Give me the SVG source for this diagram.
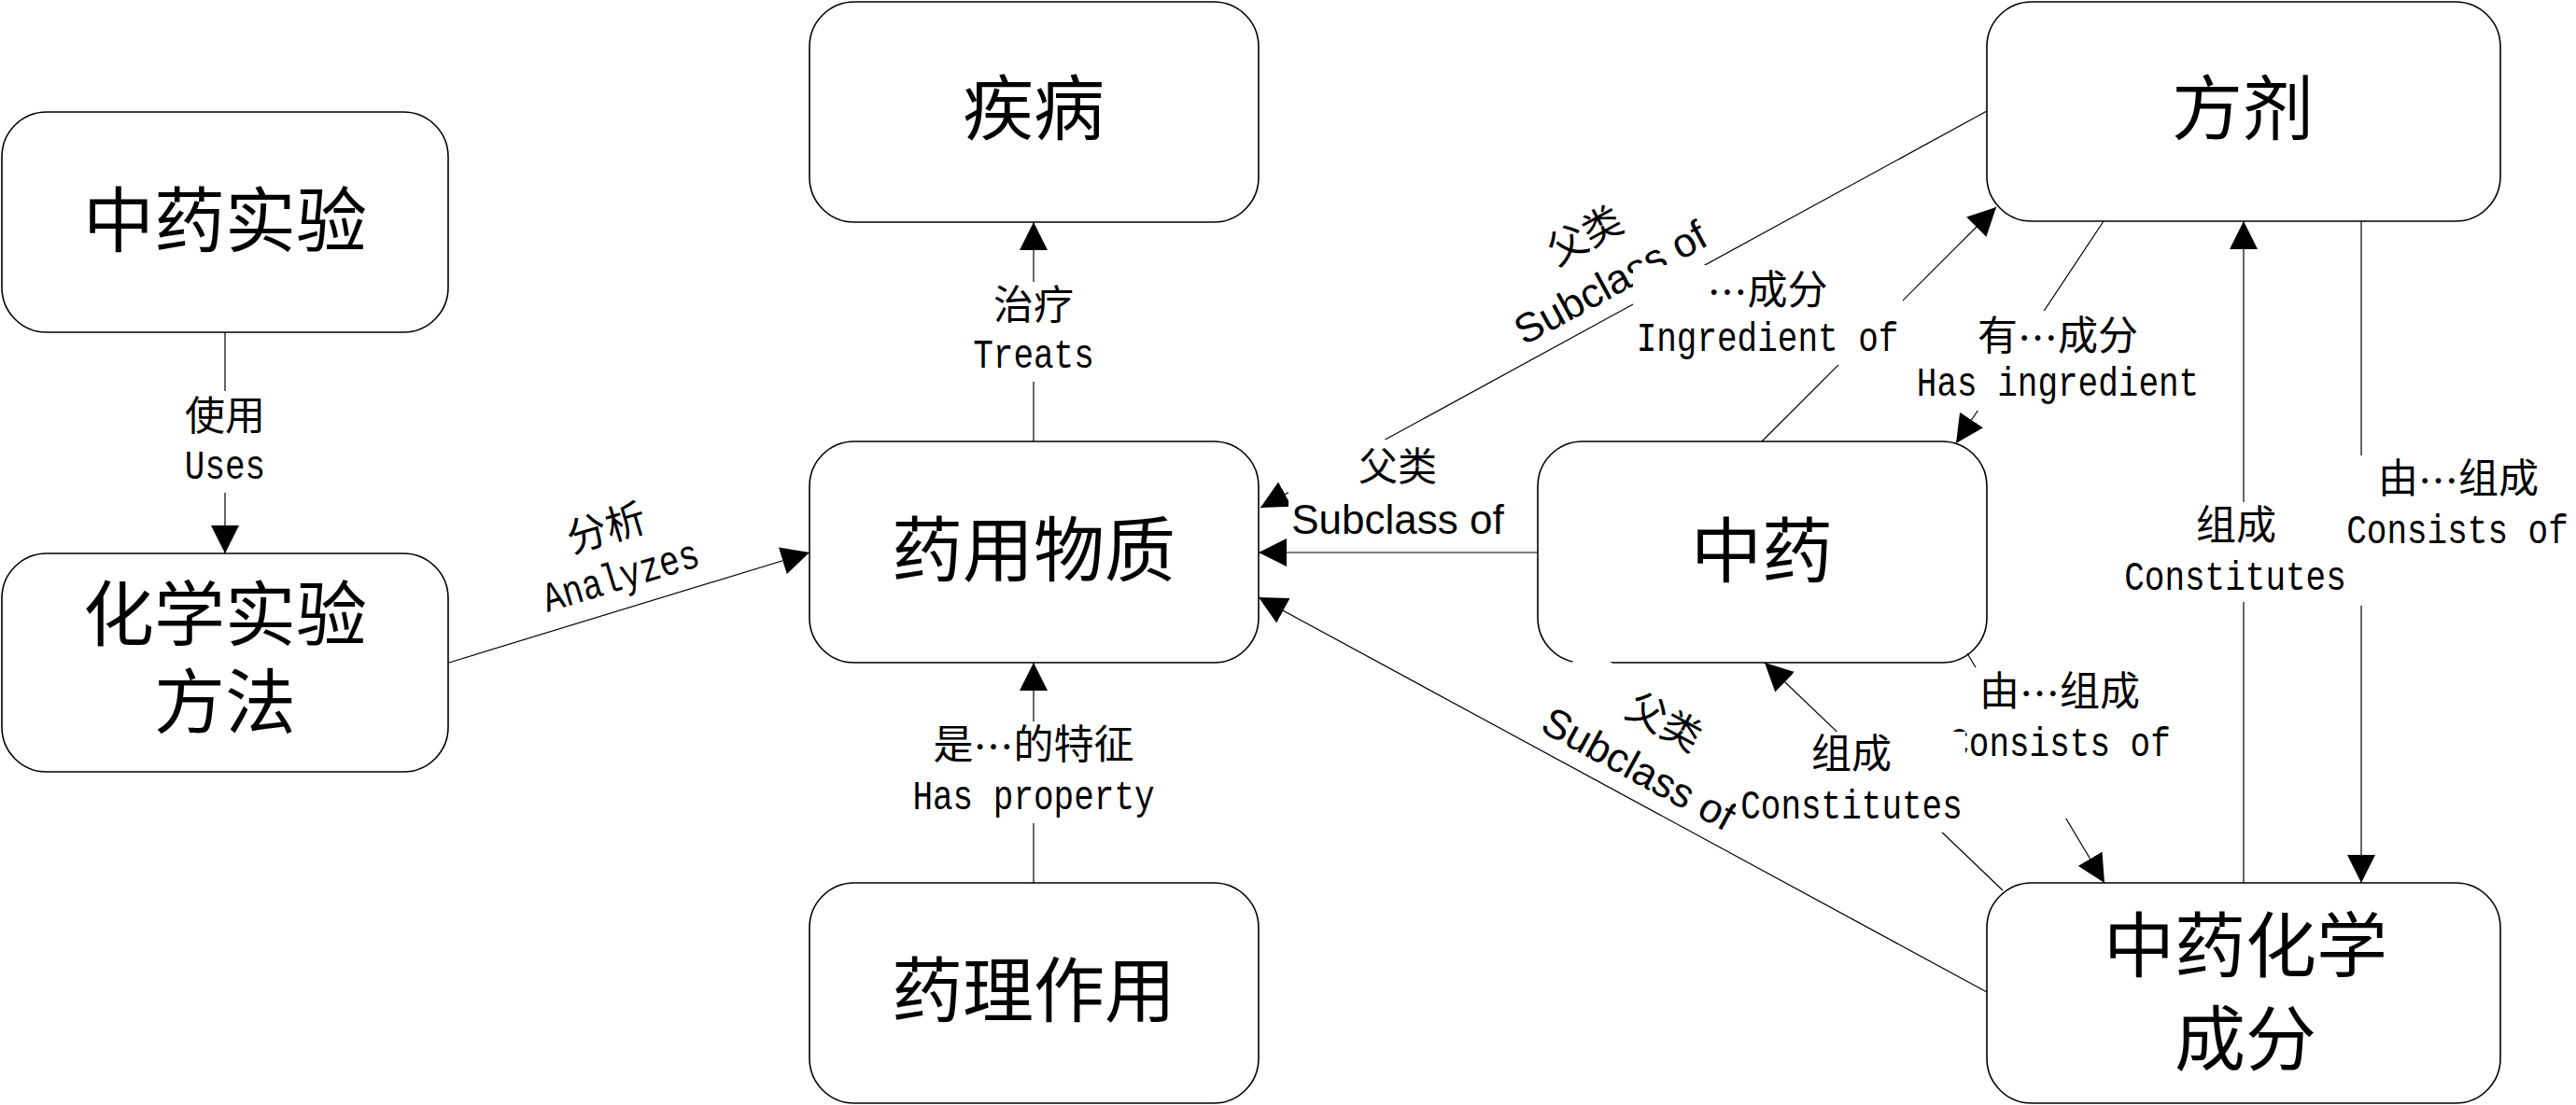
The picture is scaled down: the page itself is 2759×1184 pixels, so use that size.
<svg xmlns="http://www.w3.org/2000/svg" width="2759" height="1184" viewBox="0 0 2759 1184">
<defs>
<marker id="arr" markerUnits="userSpaceOnUse" markerWidth="30" markerHeight="30" refX="30" refY="15" orient="auto" viewBox="0 0 30 30"><path d="M0,0 L30,15 L0,30 Z" fill="#000"/></marker>
<style>
.node rect{fill:#fff;stroke:#000;stroke-width:1.6}
.nt{font-family:"Liberation Sans","Noto Sans CJK SC",sans-serif;font-size:76px;text-anchor:middle;dominant-baseline:central;fill:#000}
.conn line{stroke:#000;stroke-width:1.2;marker-end:url(#arr)}
.bg{fill:#fff;stroke:none}
.lc{font-family:"Liberation Sans","Noto Sans CJK SC",sans-serif;font-size:43px;text-anchor:middle;dominant-baseline:central;fill:#000}
.el{font-family:"Noto Sans CJK SC",sans-serif}
.ll{font-family:"Liberation Mono","Courier New",monospace;font-size:45px;text-anchor:middle;fill:#000}
.sc{font-family:"Liberation Sans",Arial,sans-serif;font-size:44px;text-anchor:middle;fill:#000}
.sz{font-family:"Liberation Sans","Noto Sans CJK SC",sans-serif;font-size:42px;text-anchor:middle;dominant-baseline:central;fill:#000}
</style>
</defs>
<rect width="2759" height="1184" fill="#fff"/>

<g id="node-tcm-experiment" class="node"><rect x="2" y="120" width="478" height="236" rx="48" ry="48"/><text class="nt" x="241" y="237">中药实验</text></g>
<g id="node-chem-method" class="node"><rect x="2" y="593" width="478" height="234" rx="48" ry="48"/><text class="nt" x="241" y="659">化学实验</text><text class="nt" x="241" y="753">方法</text></g>
<g id="node-disease" class="node"><rect x="867" y="2" width="481" height="236" rx="48" ry="48"/><text class="nt" x="1107" y="117">疾病</text></g>
<g id="node-medicinal-substance" class="node"><rect x="867" y="473" width="481" height="237" rx="48" ry="48"/><text class="nt" x="1107" y="590">药用物质</text></g>
<g id="node-pharmacology" class="node"><rect x="867" y="946" width="481" height="236" rx="48" ry="48"/><text class="nt" x="1107" y="1062">药理作用</text></g>
<g id="node-tcm" class="node"><rect x="1647" y="473" width="481" height="237" rx="48" ry="48"/><text class="nt" x="1887" y="591">中药</text></g>
<g id="node-formula" class="node"><rect x="2128" y="2" width="550" height="235" rx="48" ry="48"/><text class="nt" x="2402" y="117">方剂</text></g>
<g id="node-tcm-chem" class="node"><rect x="2128" y="946" width="550" height="236" rx="48" ry="48"/><text class="nt" x="2405" y="1014">中药化学</text><text class="nt" x="2405" y="1114">成分</text></g>

<g id="connectors" class="conn">
<line x1="241" y1="356" x2="241" y2="593"/>
<line x1="481" y1="710" x2="867" y2="592"/>
<line x1="1107" y1="473" x2="1107" y2="238"/>
<line x1="1107" y1="946" x2="1107" y2="710"/>
<line x1="1647" y1="592" x2="1348" y2="592"/>
<line x1="2128" y1="119" x2="1350" y2="544"/>
<line x1="2128" y1="1063" x2="1348" y2="640"/>
<line x1="1887" y1="473" x2="2138" y2="222"/>
<line x1="2253" y1="237" x2="2095" y2="475"/>
<line x1="2107" y1="700" x2="2254" y2="946"/>
<line x1="2145" y1="954" x2="1890" y2="710"/>
<line x1="2403" y1="946" x2="2403" y2="237"/>
<line x1="2529" y1="237" x2="2529" y2="946"/>
</g>

<g id="connector-labels">
<g id="lbl-uses"><rect class="bg" x="195" y="419" width="92" height="109"/><text class="lc" x="241" y="446">使用</text><text class="ll" transform="translate(241,513) scale(0.8,1)">Uses</text></g>
<g id="lbl-treats"><rect class="bg" x="1038" y="302" width="138" height="107"/><text class="lc" x="1107" y="327">治疗</text><text class="ll" transform="translate(1107,394) scale(0.8,1)">Treats</text></g>
<g id="lbl-hasprop"><rect class="bg" x="970" y="773" width="274" height="109"/><text class="lc" x="1107" y="798">是<tspan class="el">…</tspan>的特征</text><text class="ll" transform="translate(1107,867) scale(0.8,1)">Has property</text></g>
<g id="lbl-analyzes" transform="translate(669,631) rotate(-16.8)"><text class="lc" x="0" y="-68">分析</text><text class="ll" transform="scale(0.8,1)">Analyzes</text></g>
<g id="lbl-subclass-tcm" transform="translate(1497,572)"><rect class="bg" x="-117" y="-101" width="234" height="111"/><text class="sz" x="0" y="-72">父类</text><text class="sc" x="0" y="0">Subclass of</text></g>
<g id="lbl-subclass-formula" transform="translate(1732,316) rotate(-28.6)"><rect class="bg" x="-117" y="-101" width="234" height="111"/><text class="sz" x="0" y="-72">父类</text><text class="sc" x="0" y="0">Subclass of</text></g>
<g id="lbl-ingredient-of"><rect class="bg" x="1749" y="284" width="289" height="107"/><text class="lc" x="1893" y="311"><tspan class="el">…</tspan>成分</text><text class="ll" transform="translate(1893,376) scale(0.8,1)">Ingredient of</text></g>
<g id="lbl-has-ingredient"><rect class="bg" x="2046" y="333" width="316" height="107"/><text class="lc" x="2204" y="360">有<tspan class="el">…</tspan>成分</text><text class="ll" transform="translate(2204,424) scale(0.8,1)">Has ingredient</text></g>
<g id="lbl-subclass-chem" transform="translate(1748,837) rotate(28.5)"><rect class="bg" x="-117" y="-101" width="234" height="111"/><text class="sz" x="0" y="-72">父类</text><text class="sc" x="0" y="0">Subclass of</text></g>
<g id="lbl-consists-tcm"><rect class="bg" x="2082" y="715" width="248" height="162"/><text class="lc" x="2206" y="741">由<tspan class="el">…</tspan>组成</text><text class="ll" transform="translate(2206,810) scale(0.8,1)">Consists of</text></g>
<g id="lbl-constitutes-tcm"><rect class="bg" x="1859" y="784" width="246" height="108"/><text class="lc" x="1983" y="808">组成</text><text class="ll" transform="translate(1983,877) scale(0.8,1)">Constitutes</text></g>
<g id="lbl-constitutes-formula"><rect class="bg" x="2271" y="538" width="243" height="107"/><text class="lc" x="2395" y="563">组成</text><text class="ll" transform="translate(2394,632) scale(0.8,1)">Constitutes</text></g>
<g id="lbl-consists-formula"><rect class="bg" x="2516" y="488" width="240" height="161"/><text class="lc" x="2633" y="513">由<tspan class="el">…</tspan>组成</text><text class="ll" transform="translate(2632,582) scale(0.8,1)">Consists of</text></g>
</g>
</svg>
